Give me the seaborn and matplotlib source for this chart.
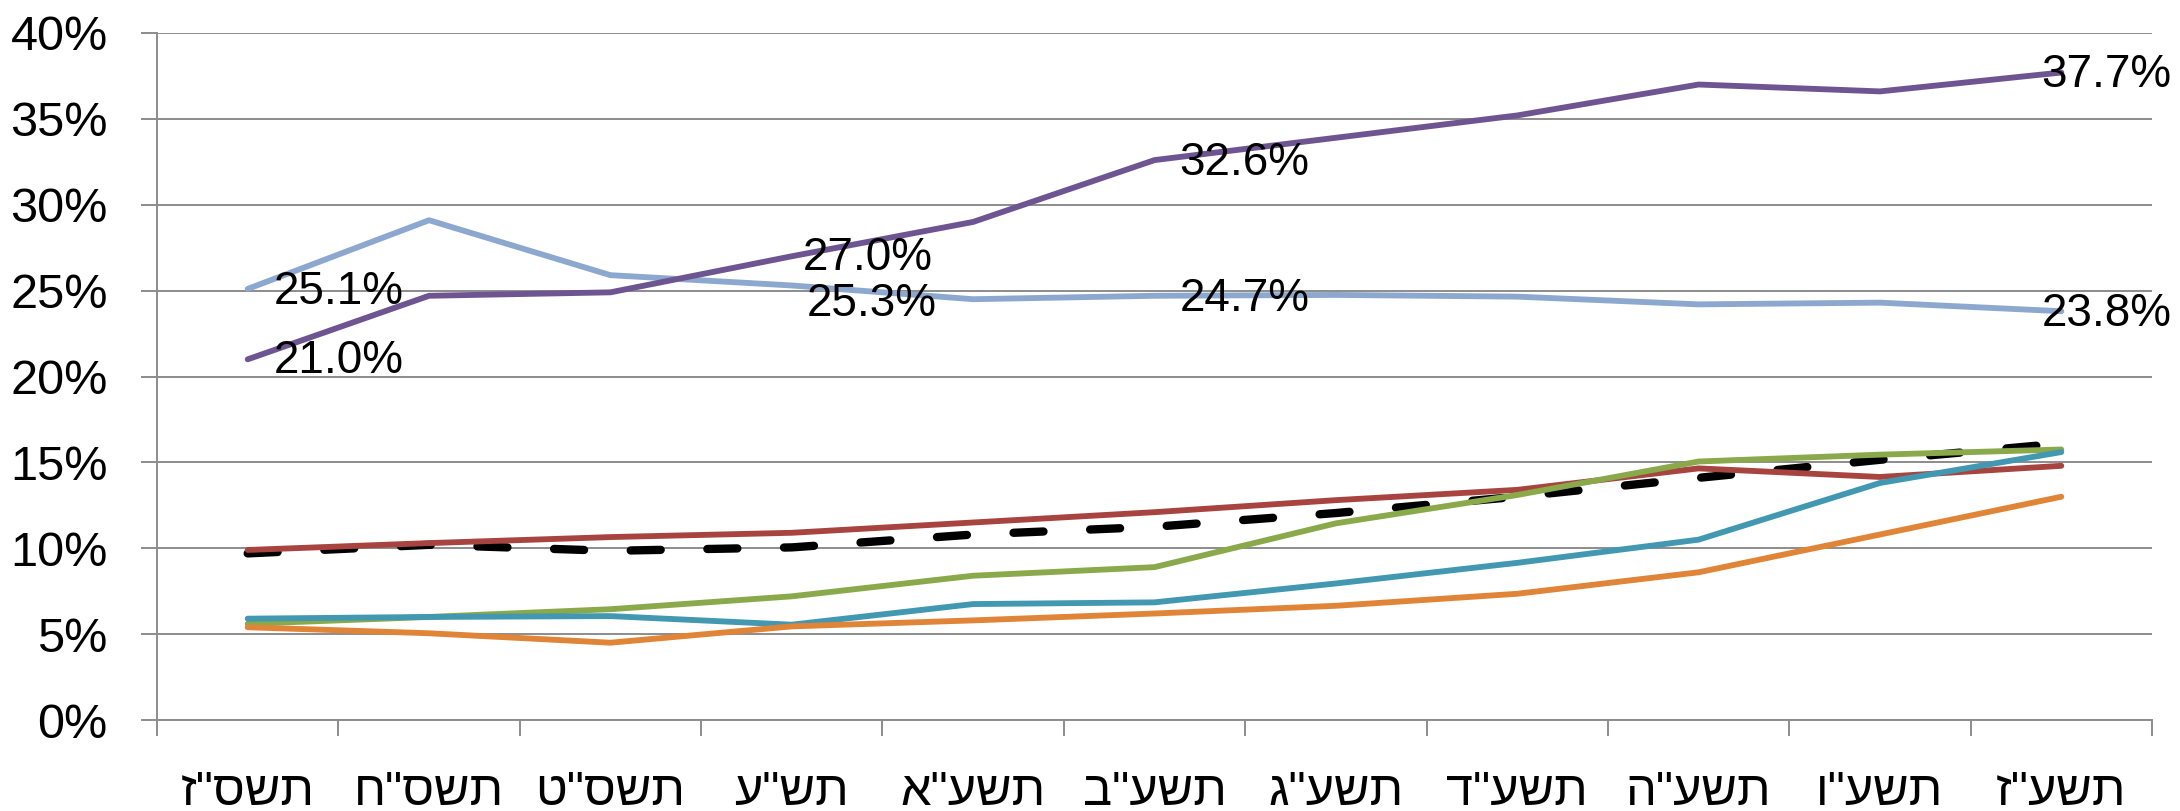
import numpy as np
import pandas as pd
import matplotlib
matplotlib.use("Agg")
import matplotlib.pyplot as plt
import seaborn as sns
from matplotlib.ticker import FixedLocator, PercentFormatter

# ---- data (percent) ----
years = ['תשס"ז', 'תשס"ח', 'תשס"ט', 'תש"ע', 'תשע"א', 'תשע"ב',
         'תשע"ג', 'תשע"ד', 'תשע"ה', 'תשע"ו', 'תשע"ז']
purple = [21.0, 24.7, 24.9, 27.0, 29.0, 32.6, 33.9, 35.2, 37.0, 36.6, 37.7]
light_blue = [25.1, 29.1, 25.9, 25.3, 24.5, 24.7, 24.75, 24.65, 24.2, 24.3, 23.8]
red = [9.9, 10.3, 10.65, 10.9, 11.5, 12.1, 12.8, 13.4, 14.65, 14.15, 14.8]
total = [9.7, 10.2, 9.85, 10.05, 10.8, 11.25, 12.05, 13.0, 14.1, 15.15, 16.1]
green = [5.6, 6.0, 6.45, 7.2, 8.4, 8.9, 11.45, 13.1, 15.05, 15.45, 15.75]
teal = [5.9, 6.0, 6.05, 5.55, 6.75, 6.85, 7.95, 9.15, 10.5, 13.8, 15.6]
orange = [5.4, 5.05, 4.5, 5.45, 5.8, 6.2, 6.65, 7.35, 8.6, 10.8, 13.0]
labeled_idx = [0, 3, 5, 10]
y_ticks = [0, 5, 10, 15, 20, 25, 30, 35, 40]

sns.set_style("white")
plt.rcParams["font.family"] = ["Liberation Sans", "DejaVu Sans"]

DPI = 100
fig = plt.figure(figsize=(21.8, 8.11), dpi=DPI)
ax = fig.add_axes([157 / 2180, 91 / 811, (2152 - 157) / 2180, (720 - 33) / 811])

x = np.arange(len(years))
series = [
    ("total", total, "black", 6.0, (0, (3.6, 5.6))),
    ("red", red, "#A8443F", 4.2, "-"),
    ("green", green, "#89A94B", 4.2, "-"),
    ("teal", teal, "#4198B0", 4.2, "-"),
    ("orange", orange, "#E08438", 4.2, "-"),
    ("light_blue", light_blue, "#8DA8CF", 4.2, "-"),
    ("purple", purple, "#6E5592", 4.2, "-"),
]
for name, vals, col, lw, ls in series:
    sns.lineplot(x=x, y=vals, color=col, linewidth=lw, ax=ax, legend=False)
    ln = ax.lines[-1]
    ln.set_linewidth(lw)
    ln.set_linestyle(ls)
    ln.set_dash_capstyle("round")
    ln.set_solid_capstyle("round")

GRID = "#8C8C8C"
ax.set_xlim(-0.5, len(years) - 0.5)
ax.set_ylim(0, 40)
ax.yaxis.set_major_locator(FixedLocator(y_ticks))
ax.yaxis.set_major_formatter(PercentFormatter(xmax=100, decimals=0))
ax.grid(axis="y", color=GRID, linewidth=1.4)
ax.grid(axis="x", visible=False)
ax.set_axisbelow(True)

# x: labels at centres, ticks at boundaries
ax.xaxis.set_major_locator(FixedLocator(x))
ax.set_xticklabels([y[::-1] for y in years])
ax.xaxis.set_minor_locator(FixedLocator(np.arange(-0.5, len(years), 1.0)))
ax.tick_params(axis="x", which="major", length=0, pad=36, labelsize=35, colors="black")
ax.tick_params(axis="x", which="minor", length=11.5, width=1.4, color=GRID, direction="out", bottom=True)
ax.tick_params(axis="y", which="major", length=11.5, width=1.4, color=GRID, direction="out",
               left=True, pad=24, labelsize=35, labelcolor="black")

for s in ["top", "right"]:
    ax.spines[s].set_visible(False)
for s in ["left", "bottom"]:
    ax.spines[s].set_color(GRID)
    ax.spines[s].set_linewidth(1.4)

# data labels (offsets in pixels: dx to the left edge, dy of centre)
label_offsets = {
    ("purple", 0): (26, -2), ("purple", 3): (11, -2), ("purple", 5): (25, -3), ("purple", 10): (-20, -2),
    ("light_blue", 0): (26, -3), ("light_blue", 3): (15, -19), ("light_blue", 5): (25, -3), ("light_blue", 10): (-20, -3),
}
for name, vals in [("purple", purple), ("light_blue", light_blue)]:
    for i in labeled_idx:
        dx, dy = label_offsets[(name, i)]
        ax.annotate(f"{vals[i]:.1f}%", xy=(i, vals[i]), xytext=(dx, dy), textcoords="offset pixels",
                    ha="left", va="center", fontsize=33, color="black", annotation_clip=False)

fig.savefig("out.png", dpi=DPI, facecolor="white")
